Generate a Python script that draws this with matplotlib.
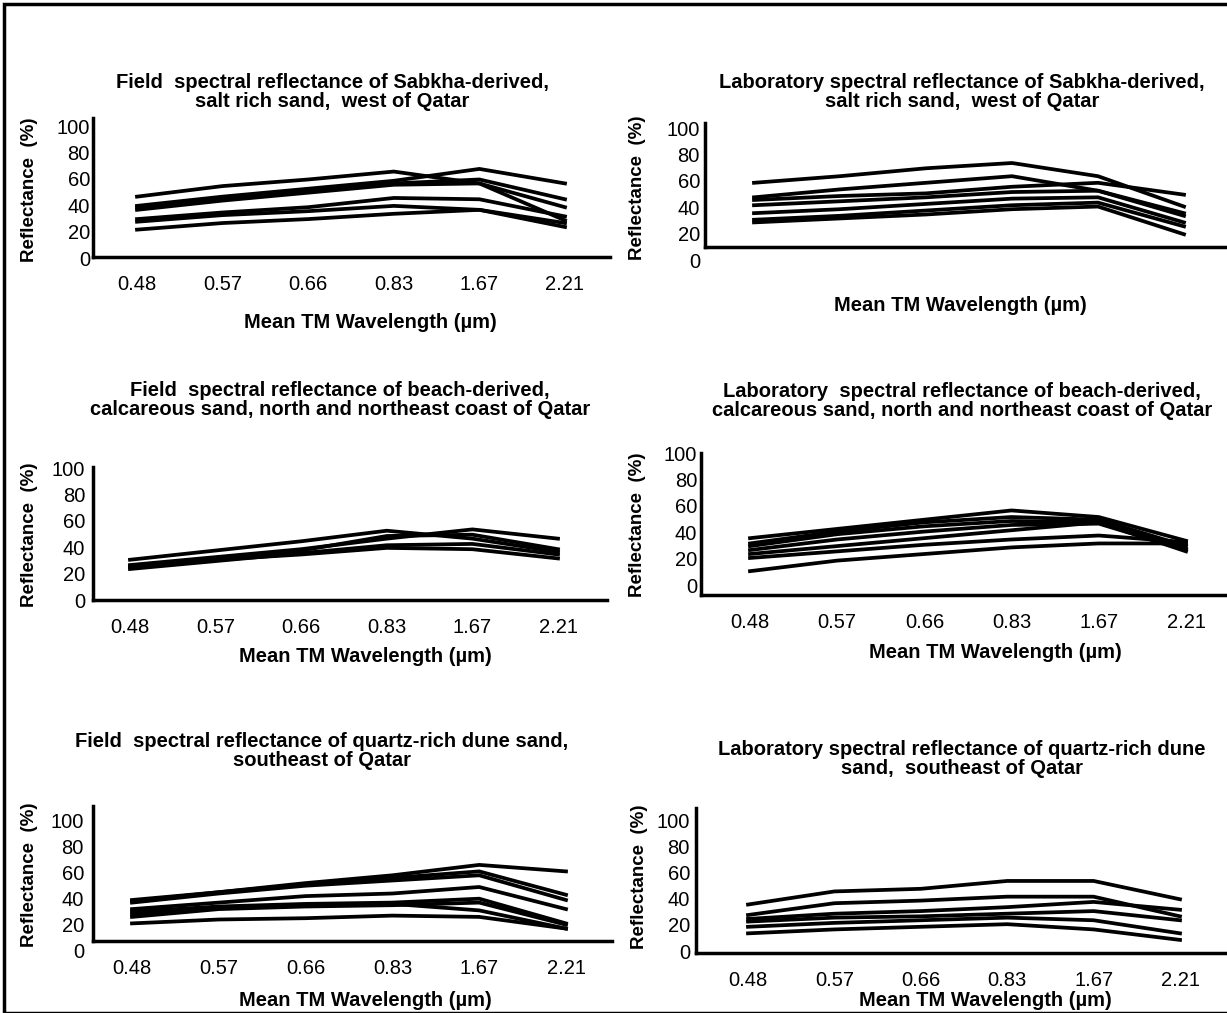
import matplotlib
matplotlib.use("Agg")
import matplotlib.pyplot as plt
from matplotlib.patches import Rectangle

plt.rcParams['font.family'] = ['Liberation Sans', 'DejaVu Sans']

# ---------------- data ----------------
wavelengths = ["0.48", "0.57", "0.66", "0.83", "1.67", "2.21"]
y_ticks = [0, 20, 40, 60, 80, 100]

field_sabkha = [
    [48, 56, 61, 67, 58, 30],
    [41, 48, 54, 60, 69, 58],
    [40, 47, 53, 58, 61, 46],
    [38, 45, 51, 57, 58, 40],
    [31, 36, 40, 47, 46, 33],
    [29, 34, 37, 41, 38, 28],
    [23, 28, 31, 35, 38, 25],
]
lab_sabkha = [
    [60, 65, 71, 75, 65, 42],
    [49, 55, 60, 65, 54, 37],
    [47, 50, 52, 57, 60, 51],
    [43, 46, 49, 53, 54, 35],
    [37, 40, 44, 48, 49, 30],
    [32, 35, 39, 43, 45, 27],
    [30, 33, 36, 40, 42, 21],
]
field_beach = [
    [32, 39, 46, 54, 48, 38],
    [28, 34, 40, 48, 55, 48],
    [26, 33, 39, 50, 51, 40],
    [25, 31, 37, 43, 44, 36],
    [27, 32, 36, 41, 40, 33],
]
lab_beach = [
    [37, 44, 51, 58, 53, 35],
    [33, 42, 49, 53, 51, 31],
    [31, 40, 46, 50, 49, 29],
    [28, 36, 42, 47, 48, 28],
    [25, 31, 37, 43, 49, 27],
    [22, 27, 32, 36, 39, 34],
    [12, 20, 25, 30, 33, 33],
]
field_dune = [
    [40, 46, 53, 59, 67, 62],
    [39, 46, 52, 57, 62, 44],
    [38, 45, 51, 55, 59, 40],
    [33, 38, 43, 45, 50, 33],
    [31, 35, 37, 38, 41, 22],
    [29, 34, 36, 37, 32, 18],
    [27, 33, 35, 36, 38, 21],
    [22, 25, 26, 28, 27, 18],
]
lab_dune = [
    [37, 47, 49, 55, 55, 41],
    [29, 38, 40, 43, 43, 28],
    [26, 30, 32, 35, 39, 33],
    [24, 27, 28, 30, 32, 25],
    [20, 23, 25, 27, 25, 15],
    [15, 18, 20, 22, 18, 10],
]

titles = [
    "Field  spectral reflectance of Sabkha-derived,\nsalt rich sand,  west of Qatar",
    "Laboratory spectral reflectance of Sabkha-derived,\nsalt rich sand,  west of Qatar",
    "Field  spectral reflectance of beach-derived,\ncalcareous sand, north and northeast coast of Qatar",
    "Laboratory  spectral reflectance of beach-derived,\ncalcareous sand, north and northeast coast of Qatar",
    "Field  spectral reflectance of quartz-rich dune sand,\nsoutheast of Qatar",
    "Laboratory spectral reflectance of quartz-rich dune\nsand,  southeast of Qatar",
]
series = [field_sabkha, lab_sabkha, field_beach, lab_beach, field_dune, lab_dune]
y_label = "Reflectance  (%)"
x_label = "Mean TM Wavelength (\u00b5m)"

# ---------------- layout (pixels, origin top-left) ----------------
W, H = 1227, 1013
fig = plt.figure(figsize=(W / 100, H / 100), dpi=100)

layout = [
    dict(l=93, r=610, t=118, b=257, y0=260, y100=128, x0=137, x5=565,
         xt=True, title=(332, 92), xl=(370, 322), yl=(30, 190), tpad=3),
    dict(l=705, r=1227, t=123, b=247, y0=262, y100=130, x0=754, x5=1184,
         xt=False, title=(962, 92), xl=(960, 305), yl=(637, 188), tpad=5),
    dict(l=93, r=607, t=467, b=600, y0=602, y100=470, x0=130, x5=558,
         xt=True, title=(340, 400), xl=(365, 657), yl=(30, 535), tpad=8),
    dict(l=701, r=1227, t=453, b=595, y0=587, y100=455, x0=750, x5=1186,
         xt=True, title=(962, 401), xl=(995, 652), yl=(637, 525), tpad=4),
    dict(l=93, r=612, t=806, b=941, y0=952, y100=822, x0=132, x5=566,
         xt=True, title=(322, 751), xl=(365, 1000), yl=(30, 875), tpad=9),
    dict(l=696, r=1227, t=808, b=953, y0=953, y100=822, x0=748, x5=1180,
         xt=True, title=(962, 759), xl=(985, 1000), yl=(640, 877), tpad=6),
]

LW = 2.7
for p, data, title in zip(layout, series, titles):
    ax = fig.add_axes([p['l'] / W, 1 - p['b'] / H, (p['r'] - p['l']) / W, (p['b'] - p['t']) / H])
    sy = (p['y0'] - p['y100']) / 100.0
    sx = (p['x5'] - p['x0']) / 5.0
    ax.set_ylim((p['y0'] - p['b']) / sy, (p['y0'] - p['t']) / sy)
    ax.set_xlim((p['l'] - p['x0']) / sx, (p['r'] - p['x0']) / sx)
    xs = list(range(len(wavelengths)))
    for s in data:
        ax.plot(xs, s, color='black', lw=LW, solid_joinstyle='miter', clip_on=False)
    for side in ('top', 'right'):
        ax.spines[side].set_visible(False)
    for side in ('left', 'bottom'):
        ax.spines[side].set_linewidth(2.5)
        ax.spines[side].set_color('black')
    ax.set_xticks([])
    ax.set_yticks([])
    ax.patch.set_alpha(0)
    for v in y_ticks:
        ax.annotate(str(v), xy=(0, v), xycoords=('axes fraction', 'data'),
                    xytext=(-p['tpad'] * 0.72, 0), textcoords='offset points',
                    ha='right', va='center', fontsize=14.5, annotation_clip=False)
    if p['xt']:
        for i, lab in enumerate(wavelengths):
            ax.annotate(lab, xy=(i, 0), xycoords=('data', 'axes fraction'),
                        xytext=(0, -20), textcoords='offset points',
                        ha='center', va='center', fontsize=14.5, annotation_clip=False)
    fig.text(p['title'][0] / W, 1 - p['title'][1] / H, title, ha='center', va='center',
             fontsize=14.5, fontweight='bold', linespacing=1.0)
    fig.text(p['xl'][0] / W, 1 - p['xl'][1] / H, x_label, ha='center', va='center',
             fontsize=14.5, fontweight='bold')
    fig.text(p['yl'][0] / W, 1 - p['yl'][1] / H, y_label, ha='center', va='center',
             rotation=90, fontsize=13.5, fontweight='bold')

fig.patches.append(Rectangle((0.003, 0.0), 1.2, 0.996, transform=fig.transFigure,
                             fill=False, lw=2.5, edgecolor='black'))

fig.savefig("out.png", dpi=100, facecolor='white')
